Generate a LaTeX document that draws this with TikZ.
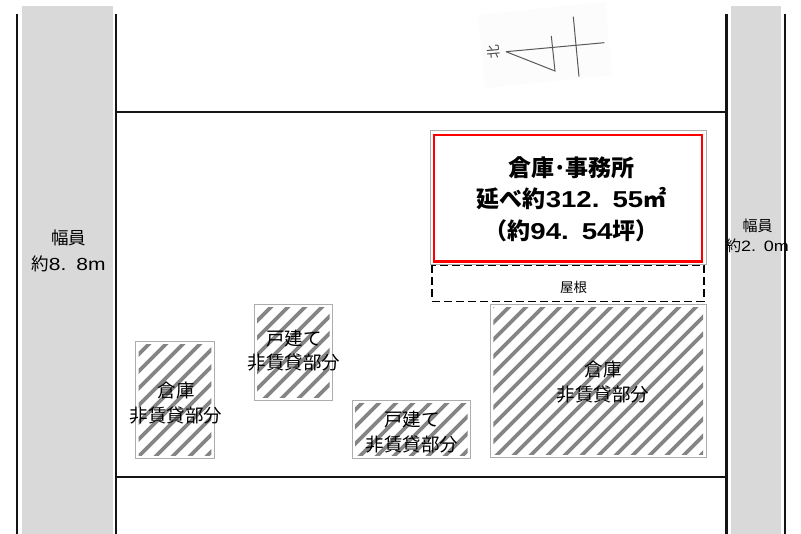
\documentclass[tikz,border=0pt]{standalone}
\usepackage{fontspec}
\setmainfont{Noto Sans CJK JP}
\newfontfamily\latinf[FakeStretch=1.2]{Liberation Sans}
\newcommand{\lt}[1]{{\latinf #1}}
\newcommand{\wdot}[1]{\hbox to #1em{\latinf.\hss}}
\definecolor{road}{gray}{0.85}
\definecolor{hatchc}{gray}{0.52}
\definecolor{edgec}{gray}{0.68}
\tikzset{
  wall/.style={line width=2.2pt,draw=black!92},
  roadbox/.style={fill=road,draw=none},
  edgebox/.style={draw=edgec,line width=1pt},
  redbox/.style={draw=red,line width=2.4pt},
  roofbox/.style={draw=black,line width=1.2pt,dash pattern=on 8pt off 4pt},
  stripe/.style={draw=hatchc,line width=3.6pt},
  lab/.style={align=center,inner sep=0pt,font=\fontsize{18.5}{24.5}\selectfont},
  roadlabl/.style={align=center,inner sep=0pt,font=\fontsize{17.5}{26}\selectfont},
  roadlabr/.style={align=center,inner sep=0pt,font=\fontsize{15}{20}\selectfont},
  title/.style={align=center,inner sep=0pt,font=\fontsize{23}{31.5}\selectfont\bfseries},
  compass/.style={draw=black!65,line width=1pt}
}
\newcommand{\hatchrect}[5]{%
  \coordinate (#1a) at (#2,#3); \coordinate (#1b) at (#4,#5);
  \begin{scope}
    \clip (#2+3,#3+3) rectangle (#4-3,#5-3);
    \foreach \c in {0,17,...,1300}{\draw[stripe] (\c,0) -- (\c-534,534);}
  \end{scope}
  \draw[edgebox] (#1a) rectangle (#1b);
}
\begin{document}
\begin{tikzpicture}[x=1pt,y=-1pt]
\useasboundingbox (0,0) rectangle (801,534);
\fill[white] (0,0) rectangle (801,534);
% roads
\path[roadbox] (22,6) rectangle (113,534);
\path[roadbox] (731,6) rectangle (781,534);
% walls
\coordinate (l1a) at (17,14); \coordinate (l1b) at (17,534);
\coordinate (l2a) at (116,14); \coordinate (l2b) at (116,534);
\coordinate (r1a) at (726.5,14); \coordinate (r1b) at (726.5,534);
\coordinate (r2a) at (785,14); \coordinate (r2b) at (785,534);
\coordinate (ta) at (116,112); \coordinate (tb) at (726.5,112);
\coordinate (ba) at (116,477); \coordinate (bb) at (726.5,477);
\draw[wall] (l1a)--(l1b);
\draw[wall] (l2a)--(l2b);
\draw[wall] (r1a)--(r1b);
\draw[wall] (r2a)--(r2b);
\draw[wall] (ta)--(tb);
\draw[wall] (ba)--(bb);
% compass
\fill[black!1] (478,15) -- (605,2) -- (612,75) -- (485,88) -- cycle;
\coordinate (ctip) at (506,51.7);
\coordinate (cend) at (604.3,42.7);
\coordinate (cfoot) at (555,71);
\coordinate (ctop) at (551.3,36);
\coordinate (cx1) at (573.3,16.7);
\coordinate (cx2) at (579,76.7);
\draw[compass] (ctip)--(cend);
\draw[compass] (ctip)--(cfoot)--(ctop);
\draw[compass] (cx1)--(cx2);
\node[rotate=95,inner sep=0pt,text=black!70,font=\fontsize{14}{14}\selectfont] (north) at (494,51.7) {北};
% main building
\draw[edgebox] (430.7,130.7) rectangle (706.7,265);
\draw[redbox] (433.7,135) rectangle (701.7,261.7);
\node[title] (main) at (571.5,199) {倉庫･事務所\\延べ約\lt{312}\wdot{.9}\lt{55}㎡\\（約\lt{94}\wdot{.9}\lt{54}坪）};
\draw[roofbox] (432,265.5) rectangle (704,301.3);
\node[inner sep=0pt,font=\fontsize{13.5}{13.5}\selectfont] (roof) at (573.5,287) {屋根};
% hatched
\hatchrect{ha}{135.7}{342}{214.3}{458.3}
\hatchrect{hb}{254}{304.3}{332.7}{400.3}
\hatchrect{hc}{352}{400.7}{470.7}{458.3}
\hatchrect{hd}{490.3}{304.5}{706}{458}
\node[lab] (la) at (176,403) {倉庫\\非賃貸部分};
\node[lab] (lb) at (294,350.5) {戸建て\\非賃貸部分};
\node[lab] (lc) at (412,432) {戸建て\\非賃貸部分};
\node[lab] (ld) at (603,382) {倉庫\\非賃貸部分};
% road labels
\node[roadlabl] (rl) at (68.5,251) {幅員\\約\lt{8}\wdot{.9}\lt{8m}};
\node[roadlabr] (rr) at (757.5,236) {幅員\\約\lt{2}\wdot{.85}\lt{0m}};
\end{tikzpicture}
\end{document}
